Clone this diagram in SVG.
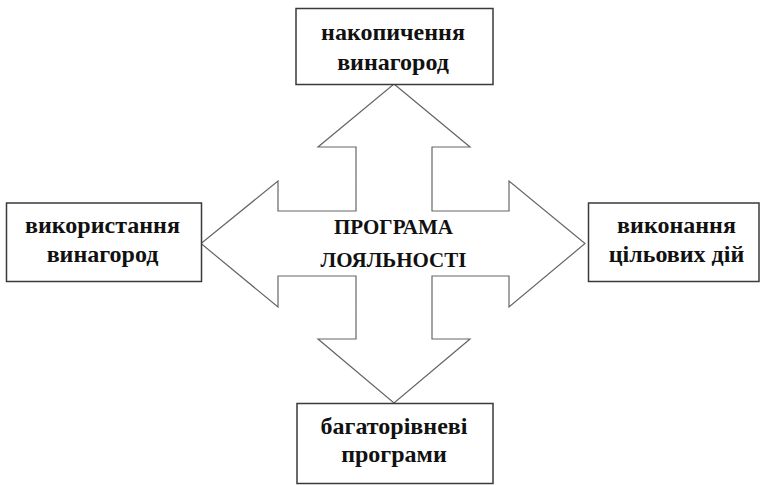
<svg xmlns="http://www.w3.org/2000/svg" width="760" height="485" viewBox="0 0 760 485">
<style>
.box{fill:#fff;stroke:#3a3a3a;stroke-width:1.5}
.arrow{fill:#fff;stroke:#666;stroke-width:1.2;stroke-linejoin:miter}
</style>
<rect width="760" height="485" fill="#fff"/>
<g id="connectors">
<polygon class="arrow" points="394,84 470,147 432,147 432,211 509,211 509,181 585,243.5 509,307 509,276 432,276 432,339 470,339 394,403 318,339 356,339 356,276 278,276 278,307 201,243.5 278,181 278,211 356,211 356,147 318,147"/>
</g>
<g font-family="Liberation Serif, DejaVu Serif, serif" font-weight="bold" fill="#111" text-anchor="middle">
<g id="center" font-size="21">
<text x="393.5" y="234">ПРОГРАМА</text>
<text x="393.5" y="267">ЛОЯЛЬНОСТІ</text>
</g>
<g id="top" font-size="24">
<rect class="box" x="296" y="8.5" width="197" height="76"/>
<text x="393" y="40">накопичення</text>
<text x="393" y="70">винагород</text>
</g>
<g id="left" font-size="24">
<rect class="box" x="6.5" y="203" width="195" height="78.5"/>
<text x="102.5" y="233">використання</text>
<text x="102.5" y="262">винагород</text>
</g>
<g id="right" font-size="24">
<rect class="box" x="588.5" y="203" width="170.5" height="78.5"/>
<text x="676.5" y="233">виконання</text>
<text x="676.5" y="262">цільових дій</text>
</g>
<g id="bottom" font-size="24">
<rect class="box" x="297" y="403.5" width="196" height="80"/>
<text x="394" y="434">багаторівневі</text>
<text x="394" y="462">програми</text>
</g>
</g>
</svg>
